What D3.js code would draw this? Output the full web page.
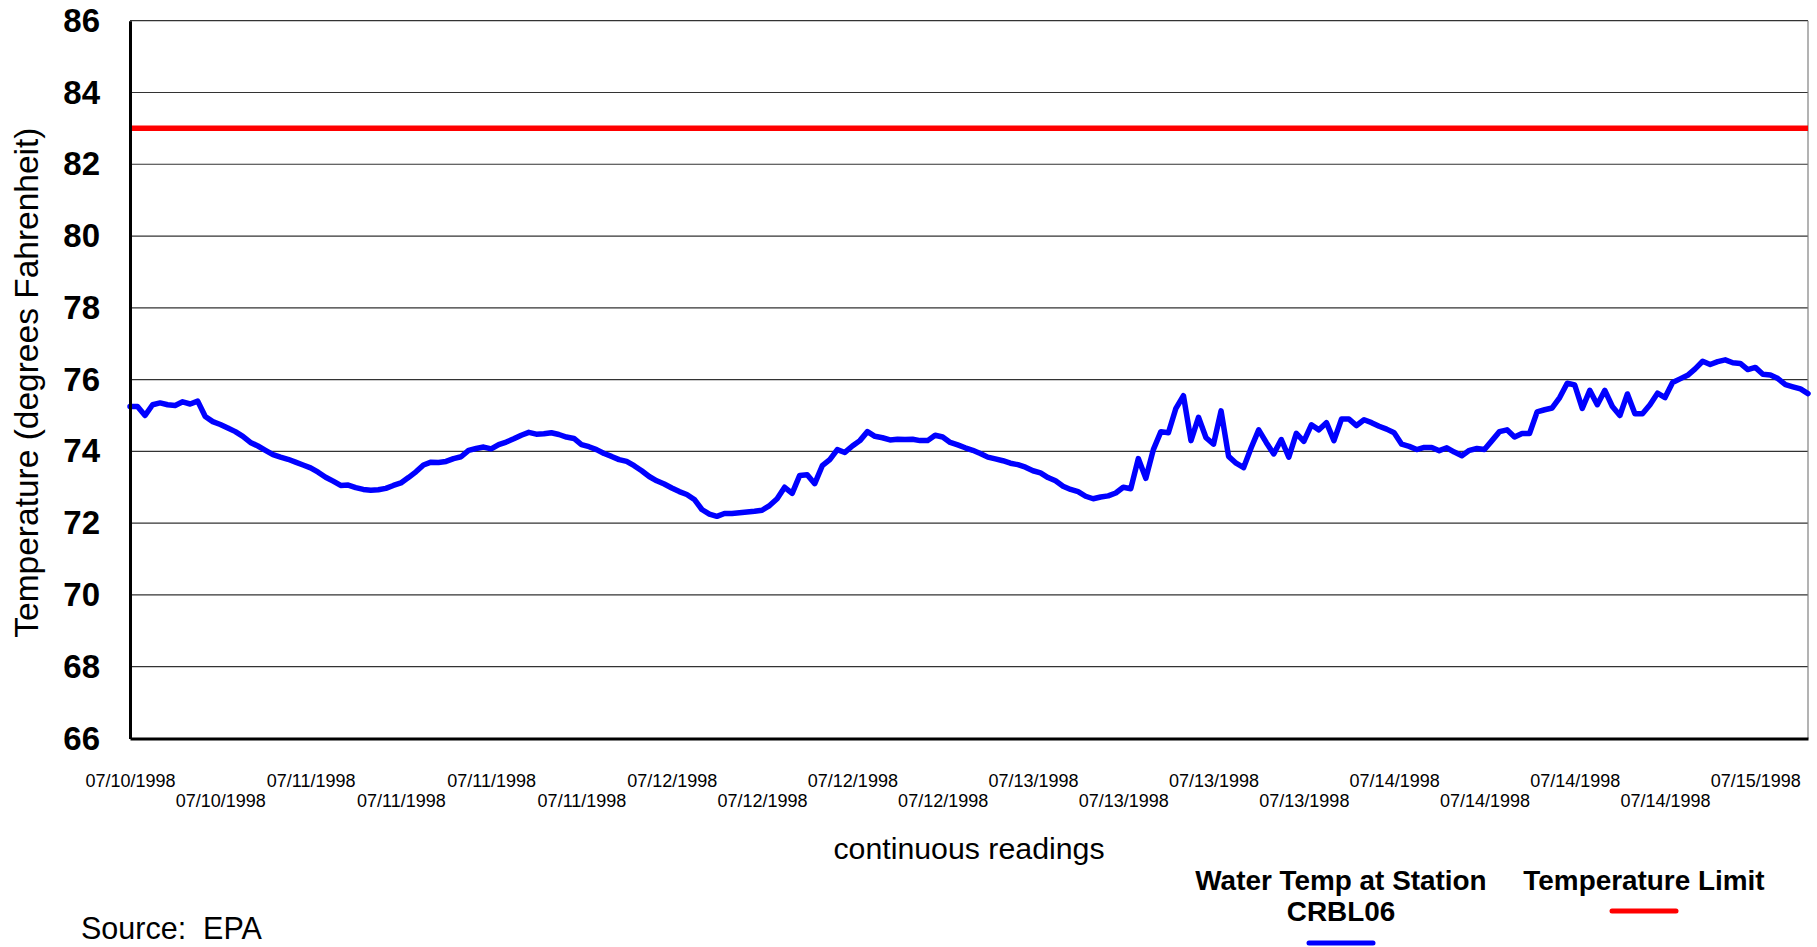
<!DOCTYPE html>
<html>
<head>
<meta charset="utf-8">
<script src="https://cdn.jsdelivr.net/npm/d3@7"></script>
<style>
  body { margin: 0; background: #ffffff; }
  svg text { font-family: "Liberation Sans", Arial, sans-serif; }
</style>
</head>
<body>
<svg id="chart" width="1817" height="947"></svg>
<script>
// ---------------- DATA ----------------
// Continuous water temperature readings (deg F), one every 30 minutes
const waterTemp = [
  75.25, 75.25, 75.00, 75.30, 75.35, 75.30, 75.28, 75.38, 75.32, 75.40,
  74.97, 74.83, 74.75, 74.65, 74.55, 74.42, 74.25, 74.15, 74.03, 73.91,
  73.84, 73.78, 73.70, 73.62, 73.54, 73.42, 73.28, 73.17, 73.05, 73.06,
  72.99, 72.94, 72.92, 72.93, 72.97, 73.05, 73.12, 73.27, 73.43, 73.62,
  73.70, 73.69, 73.72, 73.80, 73.85, 74.03, 74.08, 74.12, 74.07, 74.19,
  74.26, 74.35, 74.45, 74.53, 74.48, 74.49, 74.52, 74.47, 74.40, 74.36,
  74.19, 74.13, 74.05, 73.94, 73.86, 73.77, 73.72, 73.60, 73.46, 73.30,
  73.18, 73.09, 72.98, 72.88, 72.80, 72.66, 72.38, 72.25, 72.19, 72.27,
  72.27, 72.29, 72.31, 72.33, 72.36, 72.49, 72.68, 73.00, 72.83, 73.33,
  73.35, 73.10, 73.60, 73.77, 74.05, 73.97, 74.15, 74.30, 74.55, 74.42,
  74.38, 74.32, 74.34, 74.33, 74.34, 74.30, 74.30, 74.45, 74.40, 74.25,
  74.18, 74.10, 74.03, 73.94, 73.84, 73.79, 73.74, 73.67, 73.63, 73.56,
  73.46, 73.40, 73.27, 73.18, 73.03, 72.94, 72.88, 72.75, 72.68, 72.73,
  72.76, 72.84, 73.00, 72.96, 73.80, 73.25, 74.05, 74.55, 74.52, 75.20,
  75.55, 74.30, 74.95, 74.38, 74.20, 75.13, 73.86, 73.67, 73.55, 74.10,
  74.60, 74.25, 73.93, 74.33, 73.84, 74.50, 74.28, 74.74, 74.60, 74.80,
  74.30, 74.90, 74.90, 74.72, 74.88, 74.80, 74.70, 74.62, 74.52, 74.20,
  74.14, 74.05, 74.11, 74.11, 74.02, 74.10, 73.98, 73.88, 74.03, 74.08,
  74.05, 74.30, 74.55, 74.60, 74.40, 74.50, 74.50, 75.10, 75.16, 75.21,
  75.50, 75.90, 75.85, 75.20, 75.70, 75.30, 75.70, 75.25, 75.00, 75.60,
  75.05, 75.05, 75.30, 75.62, 75.50, 75.92, 76.02, 76.12, 76.30, 76.51,
  76.42, 76.50, 76.55, 76.47, 76.45, 76.28, 76.34, 76.15, 76.13, 76.03,
  75.86, 75.80, 75.74, 75.61
];

// Temperature limit (deg F)
const limitValue = 83;

// X category labels (reading index -> label)
const xTickIndex = [0, 12, 24, 36, 48, 60, 72, 84, 96, 108, 120, 132, 144, 156, 168, 180, 192, 204, 216];
const xTickLabels = [
  "07/10/1998", "07/10/1998", "07/11/1998", "07/11/1998", "07/11/1998",
  "07/11/1998", "07/12/1998", "07/12/1998", "07/12/1998", "07/12/1998",
  "07/13/1998", "07/13/1998", "07/13/1998", "07/13/1998", "07/14/1998",
  "07/14/1998", "07/14/1998", "07/14/1998", "07/15/1998"
];

// Y ticks
const yTicks = [66, 68, 70, 72, 74, 76, 78, 80, 82, 84, 86];

const seriesNames = ["Water Temp at Station", "CRBL06", "Temperature Limit"];
const axisTitles = { x: "continuous readings", y: "Temperature (degrees Fahrenheit)" };
const sourceText = "Source:  EPA";

// ---------------- LAYOUT ----------------
const plot = { left: 130, right: 1808, top: 20.7, bottom: 738.5 };
const svg = d3.select("#chart");

const x = d3.scaleLinear().domain([0, waterTemp.length - 1]).range([plot.left, plot.right]);
const y = d3.scaleLinear().domain([66, 86]).range([plot.bottom, plot.top]);

// gridlines
svg.append("g")
  .selectAll("line")
  .data(yTicks.filter(d => d > 66))
  .join("line")
  .attr("x1", plot.left).attr("x2", plot.right)
  .attr("y1", d => y(d)).attr("y2", d => y(d))
  .attr("stroke", "#333").attr("stroke-width", 1.2);

// right border
svg.append("line")
  .attr("x1", plot.right).attr("x2", plot.right)
  .attr("y1", plot.top).attr("y2", plot.bottom)
  .attr("stroke", "#808080").attr("stroke-width", 1.2);

// limit line
svg.append("line")
  .attr("x1", plot.left).attr("x2", plot.right)
  .attr("y1", y(limitValue)).attr("y2", y(limitValue))
  .attr("stroke", "#ff0000").attr("stroke-width", 5.5);

// water temp line
svg.append("path")
  .datum(waterTemp)
  .attr("fill", "none")
  .attr("stroke", "#0000ff")
  .attr("stroke-width", 5.5)
  .attr("stroke-linejoin", "round")
  .attr("stroke-linecap", "round")
  .attr("d", d3.line().x((d, i) => x(i)).y(d => y(d)));

// Y axis
const yAxis = svg.append("g")
  .attr("transform", `translate(${plot.left},0)`)
  .call(d3.axisLeft(y).tickValues(yTicks).tickSize(0).tickPadding(30).tickFormat(d3.format("d")));
yAxis.select(".domain").attr("stroke", "#000").attr("stroke-width", 3);
yAxis.selectAll("text")
  .attr("font-size", 33).attr("font-weight", "bold").attr("fill", "#000")
  .attr("font-family", "Liberation Sans, Arial, sans-serif");

// X axis
const xAxis = svg.append("g")
  .attr("transform", `translate(0,${plot.bottom})`)
  .call(d3.axisBottom(x).tickValues(xTickIndex).tickSize(0)
    .tickFormat((d, i) => xTickLabels[i]));
xAxis.select(".domain").attr("stroke", "#000").attr("stroke-width", 3);
xAxis.selectAll("text")
  .attr("font-size", 18).attr("fill", "#000")
  .attr("font-family", "Liberation Sans, Arial, sans-serif")
  .attr("dy", null)
  .attr("y", (d, i) => i % 2 === 0 ? 48 : 68);

// Axis titles
svg.append("text")
  .attr("transform", `translate(38,${(plot.top + plot.bottom) / 2 + 3}) rotate(-90)`)
  .attr("text-anchor", "middle")
  .attr("font-size", 33.5)
  .text(axisTitles.y);

svg.append("text")
  .attr("x", 969).attr("y", 859)
  .attr("text-anchor", "middle")
  .attr("font-size", 30.3)
  .text(axisTitles.x);

svg.append("text")
  .attr("x", 81).attr("y", 939)
  .attr("font-size", 30.5)
  .style("white-space", "pre")
  .text(sourceText);

// Legend
const legend = svg.append("g");
legend.append("text").attr("x", 1341).attr("y", 890).attr("text-anchor", "middle")
  .attr("font-size", 27.9).attr("font-weight", "bold").text(seriesNames[0]);
legend.append("text").attr("x", 1341).attr("y", 921).attr("text-anchor", "middle")
  .attr("font-size", 27.9).attr("font-weight", "bold").text(seriesNames[1]);
legend.append("line").attr("x1", 1309).attr("x2", 1373).attr("y1", 943).attr("y2", 943)
  .attr("stroke", "#0000ff").attr("stroke-width", 5).attr("stroke-linecap", "round");
legend.append("text").attr("x", 1644).attr("y", 890).attr("text-anchor", "middle")
  .attr("font-size", 27.9).attr("font-weight", "bold").text(seriesNames[2]);
legend.append("line").attr("x1", 1612).attr("x2", 1676).attr("y1", 911).attr("y2", 911)
  .attr("stroke", "#ff0000").attr("stroke-width", 5).attr("stroke-linecap", "round");
</script>
</body>
</html>
